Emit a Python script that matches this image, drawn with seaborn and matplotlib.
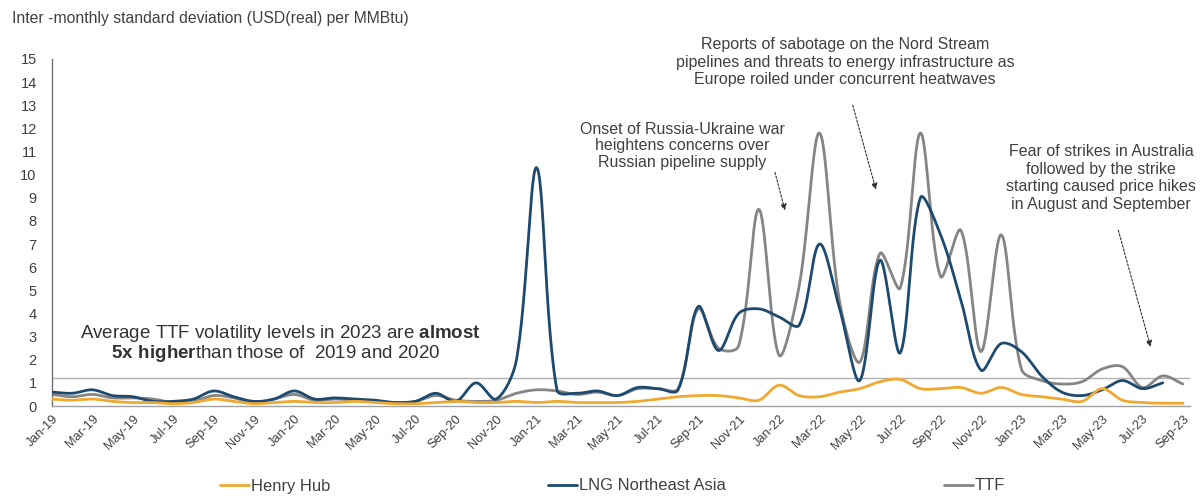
import numpy as np
import pandas as pd
import matplotlib
matplotlib.use("Agg")
import matplotlib.pyplot as plt
import seaborn as sns

# ---------------- data ----------------
months = list(pd.date_range("2019-01-01", "2023-09-01", freq="MS").strftime("%b-%y"))

henry_hub = [0.30, 0.25, 0.30, 0.20, 0.15, 0.15, 0.10, 0.15, 0.30, 0.20, 0.10, 0.15,
             0.20, 0.15, 0.15, 0.20, 0.15, 0.10, 0.10, 0.15, 0.20, 0.15, 0.15, 0.20,
             0.15, 0.20, 0.15, 0.15, 0.15, 0.20, 0.30, 0.40, 0.45, 0.45, 0.35, 0.25,
             0.90, 0.45, 0.40, 0.60, 0.75, 1.05, 1.15, 0.75, 0.75, 0.80, 0.55, 0.80,
             0.50, 0.40, 0.30, 0.20, 0.75, 0.25, 0.15, 0.12, 0.12]

lng_northeast_asia = [0.60, 0.55, 0.70, 0.45, 0.40, 0.20, 0.20, 0.30, 0.65, 0.40, 0.20, 0.30,
                      0.65, 0.30, 0.35, 0.30, 0.25, 0.15, 0.20, 0.55, 0.20, 1.00, 0.30, 2.00,
                      10.30, 0.70, 0.55, 0.65, 0.45, 0.80, 0.75, 0.70, 4.30, 2.40, 4.00, 4.20,
                      3.85, 3.50, 7.00, 4.20, 1.10, 6.30, 2.30, 9.00, 7.40, 4.60, 1.55, 2.70,
                      2.35, 1.30, 0.60, 0.45, 0.70, 1.10, 0.75, 1.00, np.nan]

ttf = [0.50, 0.40, 0.50, 0.35, 0.35, 0.30, 0.15, 0.20, 0.45, 0.35, 0.15, 0.30,
       0.50, 0.25, 0.30, 0.25, 0.20, 0.15, 0.20, 0.45, 0.25, 0.20, 0.25, 0.55,
       0.70, 0.65, 0.50, 0.60, 0.45, 0.75, 0.75, 0.75, 4.20, 2.50, 2.60, 8.50,
       2.20, 5.20, 11.80, 4.50, 1.90, 6.60, 5.10, 11.80, 5.60, 7.60, 2.35, 7.40,
       1.60, 1.10, 0.95, 1.05, 1.60, 1.70, 0.80, 1.30, 0.95]

avg_reference = 1.2
series_names = ["Henry Hub", "LNG Northeast Asia", "TTF"]
series_colors = ["#F0A830", "#1D4A6E", "#858585"]

# ---------------- helpers ----------------
def smooth(values, steps=30, tension=1 / 3):
    """Excel-like smoothed line: Bezier segments with distance-weighted control points."""
    y = np.asarray(values, dtype=float)
    x = np.arange(len(y), dtype=float)
    ok = ~np.isnan(y)
    x, y = x[ok], y[ok]
    n = len(x)
    cin = np.zeros((n, 2))
    cout = np.zeros((n, 2))
    P = np.column_stack([x, y])
    for i in range(n):
        prev_p = P[i - 1] if i > 0 else P[i]
        next_p = P[i + 1] if i < n - 1 else P[i]
        d1 = np.hypot(*(P[i] - prev_p))
        d2 = np.hypot(*(next_p - P[i]))
        v = next_p - prev_p
        s = d1 + d2 if d1 + d2 > 0 else 1.0
        cin[i] = P[i] - v * tension * d1 / s
        cout[i] = P[i] + v * tension * d2 / s
    t = np.linspace(0, 1, steps, endpoint=False)[:, None]
    pts = []
    for i in range(n - 1):
        b = ((1 - t) ** 3) * P[i] + 3 * ((1 - t) ** 2) * t * cout[i] + \
            3 * (1 - t) * t ** 2 * cin[i + 1] + t ** 3 * P[i + 1]
        pts.append(b)
    pts.append(P[-1:])
    pts = np.vstack(pts)
    return pts[:, 0], pts[:, 1]

# ---------------- style ----------------
sns.set_theme(style="white")
plt.rcParams["font.family"] = ["Liberation Sans", "DejaVu Sans"]
plt.rcParams["mathtext.fontset"] = "custom"
plt.rcParams["mathtext.rm"] = "Liberation Sans"
plt.rcParams["mathtext.bf"] = "Liberation Sans:bold"

W, H = 1203, 497
fig = plt.figure(figsize=(W / 100, H / 100), dpi=100)
ax = fig.add_axes([52 / W, (H - 406) / H, (1190 - 52) / W, (406 - 59) / H])

frames = []
for name, vals in zip(series_names, [henry_hub, lng_northeast_asia, ttf]):
    xs, ys = smooth(vals)
    frames.append(pd.DataFrame({"x": xs, "y": ys, "series": name}))
df = pd.concat(frames, ignore_index=True)

zorders = {"Henry Hub": 4, "LNG Northeast Asia": 3, "TTF": 2}
for name, color in zip(series_names, series_colors):
    sns.lineplot(data=df[df.series == name], x="x", y="y", ax=ax, color=color,
                 lw=2.0, label=name, zorder=zorders[name], sort=False, estimator=None)

ax.axhline(avg_reference, color="#B0B0B0", lw=1.0, zorder=1)

ax.set_xlim(0, 56.35)
ax.set_ylim(0, 15)
ax.set_yticks(range(0, 16))
ax.set_yticklabels([str(v) for v in range(0, 16)])
ax.set_xticks(range(0, len(months), 2))
ax.set_xticklabels(months[::2], rotation=45, ha="right", rotation_mode="anchor")
ax.tick_params(axis="y", length=0, pad=11, labelsize=10.5, labelcolor="#404040")
ax.tick_params(axis="x", length=0, pad=5, labelsize=9.3, labelcolor="#404040")
ax.set_xlabel("")
ax.set_ylabel("")
for s in ["top", "right"]:
    ax.spines[s].set_visible(False)
ax.spines["left"].set_color("#707070")
ax.spines["left"].set_linewidth(1.0)
ax.spines["bottom"].set_color("#A0A0A0")
ax.spines["bottom"].set_linewidth(1.0)

ax.get_legend().remove()
handles, labels = ax.get_legend_handles_labels()
fig.legend(handles, labels, loc="center left", bbox_to_anchor=(220 / W, 1 - 486 / H),
           ncol=3, frameon=False, fontsize=11.9, handlelength=1.75, handletextpad=0.1,
           columnspacing=13.2, borderpad=0, borderaxespad=0, labelcolor="#404040")

def fx(px):
    return px / W

def fy(py):
    return 1 - py / H

txt = "#404040"
fig.text(fx(12), fy(18), "Inter -monthly standard deviation (USD(real) per MMBtu)",
         fontsize=11.3, color=txt, ha="left", va="center")

fig.text(fx(280), fy(333), r"Average TTF volatility levels in 2023 are $\mathbf{almost}$",
         fontsize=13.5, color="#333333", ha="center", va="center")
fig.text(fx(276), fy(354), r"$\mathbf{5x\ higher}$than those of  2019 and 2020",
         fontsize=13.5, color="#333333", ha="center", va="center")

fig.text(fx(682), fy(146), "Onset of Russia-Ukraine war\nheightens concerns over\nRussian pipeline supply",
         fontsize=11.5, color=txt, ha="center", va="center", linespacing=1.1)
fig.text(fx(845), fy(62), "Reports of sabotage on the Nord Stream\npipelines and threats to energy infrastructure as\nEurope roiled under concurrent heatwaves",
         fontsize=11.5, color=txt, ha="center", va="center", linespacing=1.2)
fig.text(fx(1101), fy(178), "Fear of strikes in Australia\nfollowed by the strike\nstarting caused price hikes\nin August and September",
         fontsize=11.5, color=txt, ha="center", va="center", linespacing=1.2)

arrow_kw = dict(arrowstyle="-|>", color="#333333", lw=0.8, linestyle=(0, (2, 1.5)),
                mutation_scale=9, shrinkA=0, shrinkB=0)
ax.annotate("", xy=(36.3, 8.45), xytext=(35.8, 10.1), arrowprops=arrow_kw, annotation_clip=False)
ax.annotate("", xy=(40.8, 9.35), xytext=(39.65, 13.0), arrowprops=arrow_kw, annotation_clip=False)
ax.annotate("", xy=(54.4, 2.55), xytext=(52.8, 7.6), arrowprops=arrow_kw, annotation_clip=False)

fig.savefig("out.png", dpi=100, facecolor="white")
